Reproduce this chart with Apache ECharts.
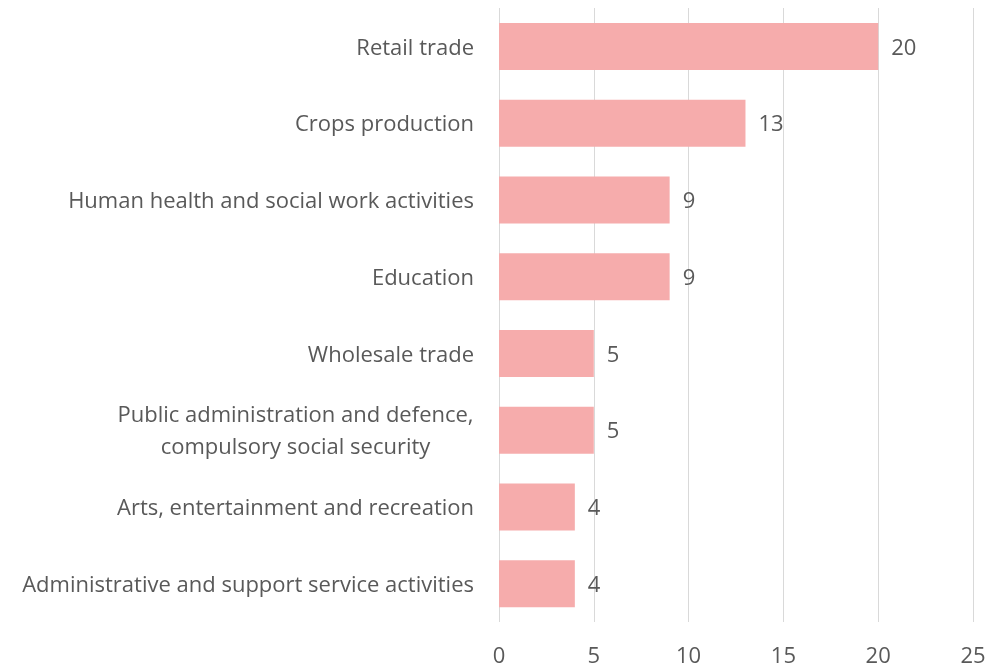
<!DOCTYPE html>
<html>
<head>
<meta charset="utf-8">
<script src="https://cdn.jsdelivr.net/npm/echarts@6/dist/echarts.min.js"></script>
<style>
  html, body { margin: 0; padding: 0; background: #fff; }
  #chart { width: 997px; height: 668px; }
</style>
</head>
<body>
<div id="chart"></div>
<script>
// Industries, listed top to bottom
const categories = [
  'Retail trade',
  'Crops production',
  'Human health and social work activities',
  'Education',
  'Wholesale trade',
  'Public administration and defence,\ncompulsory social security',
  'Arts, entertainment and recreation',
  'Administrative and support service activities'
];
const values = [20, 13, 9, 9, 5, 5, 4, 4];
const xTicks = { min: 0, max: 25, interval: 5 };

const FONT = '"Open Sans", "Noto Sans", sans-serif';
const FONT_SIZE = 22;
const TEXT = '#595959';

// Width of a line of label text, so wrapped lines can be centred under the longest one
function textWidth(s) {
  const c = document.createElement('canvas').getContext('2d');
  c.font = FONT_SIZE + 'px ' + FONT;
  return Math.ceil(c.measureText(s).width);
}

const wrapWidth = Math.max.apply(null, categories
  .filter(v => v.indexOf('\n') >= 0)
  .map(v => Math.max.apply(null, v.split('\n').map(textWidth))));

const chart = echarts.init(document.getElementById('chart'));
chart.setOption({
  animation: false,
  grid: { left: 499, right: 24, top: 8, bottom: 45, containLabel: false },
  xAxis: {
    type: 'value',
    min: xTicks.min, max: xTicks.max, interval: xTicks.interval,
    axisLine: { show: false },
    axisTick: { show: false },
    splitLine: { lineStyle: { color: '#d9d9d9', width: 1 } },
    axisLabel: { color: TEXT, fontSize: FONT_SIZE, fontFamily: FONT, margin: 24 }
  },
  yAxis: {
    type: 'category',
    inverse: true,
    data: categories,
    axisLine: { show: false },
    axisTick: { show: false },
    axisLabel: {
      color: TEXT, fontSize: FONT_SIZE, fontFamily: FONT, margin: 25,
      lineHeight: 32, padding: [4, 0, 0, 0],
      formatter: function (v) {
        if (v.indexOf('\n') < 0) return v;
        return v.split('\n').map(l => '{c|' + l + '}').join('\n');
      },
      rich: {
        c: { color: TEXT, fontSize: FONT_SIZE, fontFamily: FONT, lineHeight: 32,
             align: 'center', width: wrapWidth }
      }
    }
  },
  series: [{
    type: 'bar',
    data: values,
    barWidth: 47,
    itemStyle: { color: '#F6ACAC' },
    label: {
      show: true, position: 'right', distance: 13, offset: [0, 2],
      color: TEXT, fontSize: FONT_SIZE, fontFamily: FONT
    }
  }]
});
</script>
</body>
</html>
